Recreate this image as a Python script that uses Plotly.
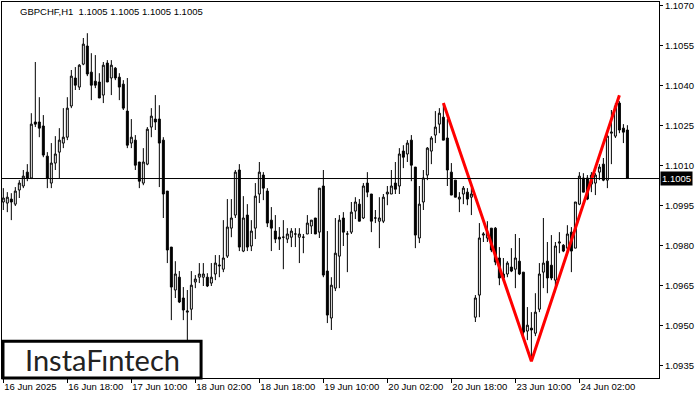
import plotly.graph_objects as go

# ---------------- data (GBPCHF H1) ----------------
open_ = [1.09962,1.09958,1.09973,1.09954,1.10007,1.10022,1.10074,1.10052,1.10262,1.10262,
         1.10247,1.10134,1.10033,1.10108,1.10149,1.10183,1.10205,1.10322,1.10427,1.10393,
         1.10479,1.10547,1.10449,1.10415,1.10412,1.10363,1.10483,1.10427,1.10464,1.10430,
         1.10404,1.10303,1.10183,1.10194,1.10112,1.10033,1.10104,1.10243,1.10273,1.10273,
         1.10194,1.10003,1.09793,1.09632,1.09680,1.09602,1.09549,1.09560,1.09662,1.09680,
         1.09680,1.09680,1.09658,1.09692,1.09722,1.09710,1.09759,1.09864,1.09913,1.10082,
         1.09778,1.09913,1.09797,1.09864,1.09992,1.10063,1.10003,1.09894,1.09853,1.09830,
         1.09830,1.09823,1.09830,1.09842,1.09830,1.09830,1.09842,1.09872,1.09902,1.09849,
         1.10022,1.09703,1.09527,1.09639,1.09759,1.09902,1.09842,1.09849,1.09928,1.09954,
         1.09902,1.10033,1.09992,1.09902,1.09890,1.09890,1.09992,1.09992,1.10033,1.10022,
         1.10153,1.10142,1.10194,1.10093,1.09827,1.09962,1.10063,1.10153,1.10213,1.10254,
         1.10280,1.10202,1.10074,1.10044,1.09973,1.09992,1.09999,1.09980,1.09530,1.09613,
         1.09838,1.09827,1.09864,1.09864,1.09752,1.09692,1.09692,1.09718,1.09710,1.09740,
         1.09699,1.09478,1.09489,1.09470,1.09560,1.09699,1.09740,1.09725,1.09669,1.09808,
         1.09800,1.09789,1.09849,1.09789,1.09954,1.10052,1.10052,1.10029,1.10033,1.10074,
         1.10104,1.10044,1.10220,1.10209,1.10333,1.10239,1.10232]
high = [1.10014,1.09999,1.09995,1.10018,1.10044,1.10082,1.10104,1.10295,1.10487,1.10355,
        1.10288,1.10149,1.10183,1.10209,1.10239,1.10314,1.10355,1.10457,1.10468,1.10479,
        1.10577,1.10595,1.10520,1.10513,1.10445,1.10487,1.10494,1.10494,1.10468,1.10445,
        1.10419,1.10427,1.10273,1.10213,1.10112,1.10164,1.10243,1.10314,1.10363,1.10325,
        1.10205,1.10003,1.09793,1.09740,1.09703,1.09643,1.09632,1.09703,1.09688,1.09733,
        1.09733,1.09695,1.09733,1.09763,1.09763,1.09894,1.09973,1.09973,1.10082,1.10104,
        1.09984,1.09954,1.09894,1.10033,1.10112,1.10074,1.10014,1.09943,1.09913,1.09868,
        1.09894,1.09864,1.09864,1.09864,1.09864,1.09842,1.09913,1.09894,1.09902,1.10014,
        1.10082,1.09853,1.09680,1.09902,1.09913,1.09924,1.09853,1.09962,1.09980,1.09973,
        1.10033,1.10074,1.09992,1.09932,1.09980,1.09992,1.10022,1.10082,1.10112,1.10164,
        1.10175,1.10194,1.10213,1.10093,1.10022,1.10082,1.10168,1.10209,1.10303,1.10314,
        1.10329,1.10273,1.10108,1.10044,1.09999,1.10022,1.10014,1.10014,1.09613,1.09883,
        1.09849,1.09890,1.09864,1.09868,1.09793,1.09752,1.09740,1.09789,1.09842,1.09827,
        1.09699,1.09568,1.09549,1.09620,1.09733,1.09902,1.09812,1.09838,1.09812,1.09849,
        1.09804,1.09875,1.09868,1.09962,1.10074,1.10070,1.10063,1.10074,1.10070,1.10104,
        1.10127,1.10220,1.10307,1.10333,1.10340,1.10254,1.10250]
low = [1.09932,1.09924,1.09894,1.09947,1.09977,1.10014,1.10040,1.10048,1.10243,1.10205,
       1.10130,1.10014,1.10014,1.10082,1.10052,1.10164,1.10194,1.10314,1.10382,1.10382,
       1.10475,1.10434,1.10344,1.10389,1.10352,1.10333,1.10412,1.10363,1.10419,1.10344,
       1.10307,1.10164,1.10164,1.10082,1.10014,1.10025,1.10100,1.10205,1.10232,1.10018,
       1.09902,1.09733,1.09519,1.09602,1.09583,1.09519,1.09444,1.09519,1.09639,1.09658,
       1.09647,1.09643,1.09647,1.09669,1.09680,1.09699,1.09752,1.09830,1.09902,1.09778,
       1.09774,1.09778,1.09778,1.09823,1.09958,1.09969,1.09868,1.09778,1.09808,1.09782,
       1.09710,1.09808,1.09793,1.09793,1.09733,1.09770,1.09842,1.09842,1.09842,1.09827,
       1.09680,1.09508,1.09482,1.09628,1.09639,1.09797,1.09699,1.09842,1.09898,1.09890,
       1.09898,1.09980,1.09849,1.09883,1.09789,1.09883,1.09950,1.09992,1.09992,1.09992,
       1.10089,1.10112,1.10040,1.09789,1.09808,1.09932,1.10044,1.10104,1.10183,1.10220,
       1.10194,1.10022,1.09988,1.09980,1.09924,1.09954,1.09950,1.09913,1.09512,1.09530,
       1.09812,1.09812,1.09774,1.09725,1.09650,1.09665,1.09680,1.09699,1.09639,1.09688,
       1.09463,1.09444,1.09369,1.09459,1.09549,1.09639,1.09620,1.09669,1.09624,1.09770,
       1.09774,1.09763,1.09699,1.09789,1.09950,1.09999,1.09969,1.09999,1.09988,1.10044,
       1.10040,1.10014,1.10104,1.10202,1.10220,1.10183,1.10050]
close = [1.09977,1.09980,1.09962,1.10003,1.10033,1.10059,1.10052,1.10254,1.10254,1.10239,
         1.10138,1.10052,1.10108,1.10142,1.10194,1.10205,1.10314,1.10434,1.10400,1.10475,
         1.10554,1.10442,1.10400,1.10400,1.10352,1.10475,1.10412,1.10475,1.10427,1.10393,
         1.10314,1.10175,1.10205,1.10100,1.10040,1.10112,1.10235,1.10284,1.10262,1.10183,
         1.09992,1.09782,1.09643,1.09692,1.09587,1.09557,1.09553,1.09650,1.09673,1.09692,
         1.09692,1.09647,1.09680,1.09733,1.09725,1.09752,1.09868,1.09902,1.10074,1.09793,
         1.09902,1.09793,1.09853,1.09984,1.10074,1.10014,1.09883,1.09864,1.09823,1.09823,
         1.09830,1.09842,1.09853,1.09842,1.09842,1.09830,1.09883,1.09894,1.09842,1.10014,
         1.09688,1.09538,1.09650,1.09770,1.09894,1.09849,1.09842,1.09924,1.09962,1.09890,
         1.10022,1.09999,1.09890,1.09902,1.09902,1.09980,1.09999,1.10022,1.10010,1.10142,
         1.10130,1.10183,1.10100,1.09838,1.09954,1.10052,1.10164,1.10202,1.10243,1.10295,
         1.10194,1.10082,1.09988,1.09980,1.09980,1.10014,1.09973,1.09992,1.09602,1.09827,
         1.09842,1.09849,1.09782,1.09737,1.09677,1.09677,1.09733,1.09703,1.09752,1.09692,
         1.09474,1.09500,1.09482,1.09549,1.09692,1.09733,1.09677,1.09677,1.09797,1.09812,
         1.09778,1.09842,1.09778,1.09962,1.10059,1.09999,1.09973,1.10063,1.10063,1.10093,
         1.10044,1.10209,1.10224,1.10322,1.10232,1.10224,1.10050]

tick_bars = [0, 16, 32, 48, 64, 80, 96, 112, 128, 144]
tick_labels = ["16 Jun 2025", "16 Jun 18:00", "17 Jun 10:00", "18 Jun 02:00",
               "18 Jun 18:00", "19 Jun 10:00", "20 Jun 02:00", "20 Jun 18:00",
               "23 Jun 10:00", "24 Jun 02:00"]
price_ticks = [1.0935, 1.0950, 1.0965, 1.0980, 1.0995, 1.1010, 1.1025, 1.1040, 1.1055, 1.1070]

pattern_bars = [110, 132, 154]
pattern_prices = [1.10333, 1.09365, 1.10362]

current_price = 1.1005
title_text = "GBPCHF,H1  1.1005 1.1005 1.1005 1.1005"
logo_text = "InstaF\u0131ntech"

bars = list(range(len(open_)))

fig = go.Figure()
fig.add_trace(go.Candlestick(
    x=bars, open=open_, high=high, low=low, close=close,
    increasing=dict(line=dict(color="black", width=1), fillcolor="white"),
    decreasing=dict(line=dict(color="black", width=1), fillcolor="black"),
    whiskerwidth=0, hoverinfo="skip", showlegend=False,
))
fig.add_trace(go.Scatter(
    x=pattern_bars, y=pattern_prices, mode="lines",
    line=dict(color="#ff0000", width=3), hoverinfo="skip", showlegend=False,
))

fig.add_shape(type="line", xref="paper", x0=0, x1=1, yref="y",
              y0=current_price, y1=current_price, line=dict(color="black", width=1))

# logo box
fig.add_shape(type="rect", xref="paper", yref="paper", x0=0.0015, x1=0.303,
              y0=0.0, y1=0.098, fillcolor="white", line=dict(color="black", width=3),
              layer="above")
fig.add_annotation(text=logo_text, xref="paper", yref="paper", x=0.153, y=0.049,
                   xanchor="center", yanchor="middle", showarrow=False,
                   font=dict(family="Lato", size=29, color="#222222"))

fig.add_annotation(text=title_text, xref="paper", yref="paper", x=0.024, y=0.995,
                   xanchor="left", yanchor="top", showarrow=False,
                   font=dict(family="Liberation Sans", size=9.5, color="#000000"))

fig.add_annotation(text="1.1005", xref="paper", yref="y", x=1.0, y=current_price,
                   xanchor="left", yanchor="middle", showarrow=False,
                   bgcolor="black", font=dict(family="Liberation Sans", size=9.5, color="white"),
                   borderpad=1, xshift=1)

fig.update_layout(
    width=700, height=400,
    margin=dict(l=2, r=41, t=2, b=22, autoexpand=False),
    paper_bgcolor="white", plot_bgcolor="white",
    showlegend=False,
    font=dict(family="Liberation Sans", size=9.5, color="black"),
)
fig.update_xaxes(
    range=[-0.33, 163.9], rangeslider_visible=False,
    tickmode="array", tickvals=tick_bars, ticktext=tick_labels,
    ticks="outside", ticklen=4, tickcolor="black", ticklabelposition="outside right",
    tickangle=0, automargin=False,
    showgrid=False, zeroline=False, showline=True, mirror=True,
    linecolor="black", linewidth=1,
)
fig.update_yaxes(
    range=[1.09302, 1.10712], side="right",
    tickmode="array", tickvals=price_ticks, tickformat=".4f",
    ticks="outside", ticklen=3, tickcolor="black", ticklabeloverflow="allow",
    automargin=False,
    showgrid=False, zeroline=False, showline=True, mirror=True,
    linecolor="black", linewidth=1,
)

fig.write_html("out.html", config={"displayModeBar": False},
               post_script="document.body.style.margin='0';document.body.style.overflow='hidden';")
